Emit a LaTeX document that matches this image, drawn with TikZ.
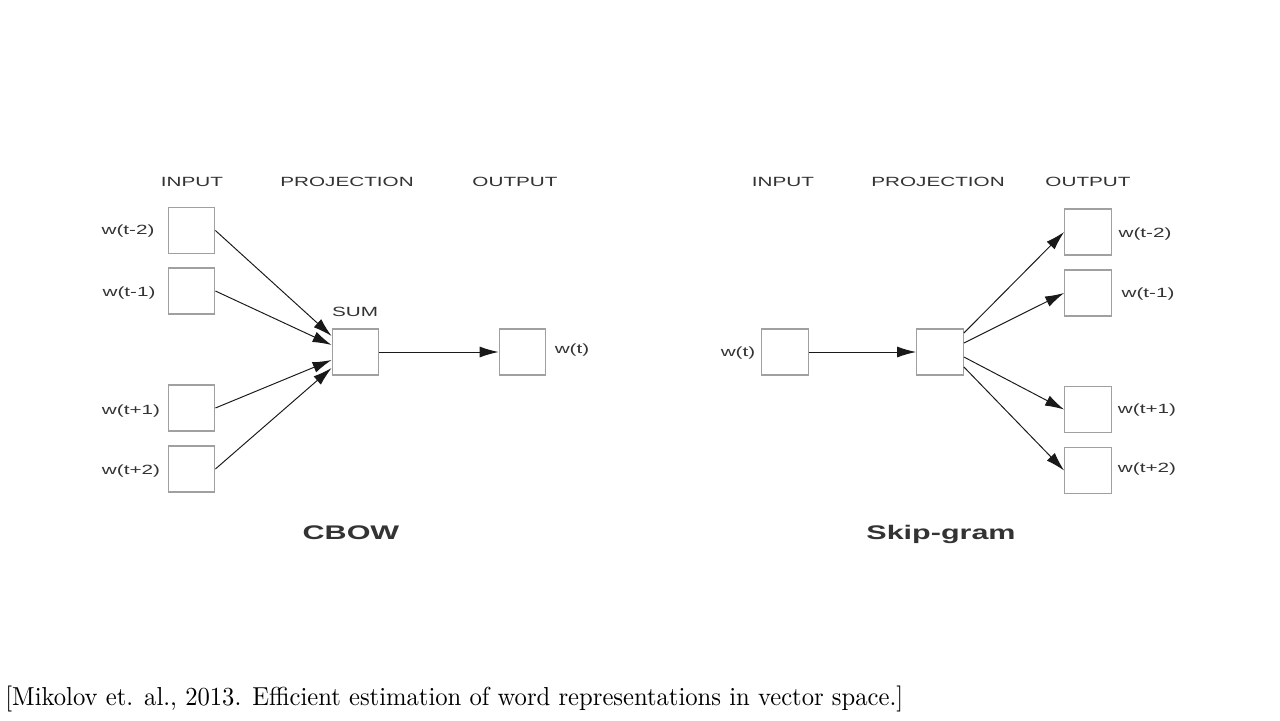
\documentclass[tikz,border=0pt]{standalone}
\usepackage{fontspec}
\setsansfont{Liberation Sans}
\usepackage{graphicx}
\usetikzlibrary{arrows.meta}

\definecolor{boxgray}{HTML}{A0A0A0}
\definecolor{textgray}{HTML}{333333}
\newcommand{\widetext}[1]{\scalebox{1.55}[1]{#1}}

\tikzset{
    unit/.style={draw=boxgray, line width=0.75pt, fill=white, minimum width=0.93cm, minimum height=0.92cm, inner sep=0pt},
    lbl/.style={text=textgray, font=\sffamily\fontsize{7.6}{9}\selectfont, inner sep=0pt},
    title/.style={text=textgray, font=\sffamily\bfseries\fontsize{11.2}{13}\selectfont, inner sep=0pt, anchor=base},
    conn/.style={-{Latex[length=0.38cm, width=0.22cm]}, line width=0.55pt, draw=black!90},
}

\begin{document}
\begin{tikzpicture}[x=0.02cm, y=-0.02cm]
    \fill[white] (0,0) rectangle (1280,720);
    \useasboundingbox (0,0) rectangle (1280,720);

    \node[lbl] (cinput) at (192,182){\widetext{INPUT}};
    \node[lbl] (cproj) at (347,182){\widetext{PROJECTION}};
    \node[lbl] (coutput) at (515,182){\widetext{OUTPUT}};

    \node[unit] (cw1) at (191.5,230.5){};
    \node[unit] (cw2) at (191.5,291){};
    \node[unit] (cw3) at (191.5,408){};
    \node[unit] (cw4) at (191.5,469){};
    \node[lbl] (cl1) at (128,231){\widetext{w(t-2)}};
    \node[lbl] (cl2) at (129,293){\widetext{w(t-1)}};
    \node[lbl] (cl3) at (131,411){\widetext{w(t+1)}};
    \node[lbl] (cl4) at (131,471){\widetext{w(t+2)}};

    \node[unit] (sum) at (355.5,352){};
    \node[lbl] (suml) at (355,312){\widetext{SUM}};
    \node[unit] (cout) at (522.5,352){};
    \node[lbl] (coutl) at (572,350){\widetext{w(t)}};

    \draw[conn] (cw1.east)--([yshift=0.32cm]sum.west);
    \draw[conn] (cw2.east)--([yshift=0.14cm]sum.west);
    \draw[conn] (cw3.east)--([yshift=-0.16cm]sum.west);
    \draw[conn] (cw4.east)--([yshift=-0.32cm]sum.west);
    \draw[conn] (sum.east)--(cout.west);

    \node[title] (cbow) at (351,539){\widetext{CBOW}};

    \node[lbl] (sinput) at (783,182){\widetext{INPUT}};
    \node[lbl] (sproj) at (938,182){\widetext{PROJECTION}};
    \node[lbl] (soutput) at (1088,182){\widetext{OUTPUT}};

    \node[unit] (sin) at (785,352){};
    \node[lbl] (sinl) at (738,353){\widetext{w(t)}};
    \node[unit] (proj) at (940,352){};

    \node[unit] (sw1) at (1088,232){};
    \node[unit] (sw2) at (1088,293){};
    \node[unit] (sw3) at (1088,409.5){};
    \node[unit] (sw4) at (1088,470.5){};
    \node[lbl] (sl1) at (1145,234){\widetext{w(t-2)}};
    \node[lbl] (sl2) at (1148,294){\widetext{w(t-1)}};
    \node[lbl] (sl3) at (1147,410){\widetext{w(t+1)}};
    \node[lbl] (sl4) at (1147,469){\widetext{w(t+2)}};

    \draw[conn] (sin.east)--(proj.west);
    \draw[conn] ([yshift=0.38cm]proj.east)--(sw1.west);
    \draw[conn] ([yshift=0.18cm]proj.east)--(sw2.west);
    \draw[conn] ([yshift=-0.1cm]proj.east)--(sw3.west);
    \draw[conn] ([yshift=-0.3cm]proj.east)--(sw4.west);

    \node[title] (skip) at (941,539){\widetext{Skip-gram}};

    \node[anchor=west, inner sep=0pt] (cite) at (5,699){\resizebox*{17.96cm}{0.52cm}{[Mikolov et. al., 2013. Efficient estimation of word representations in vector space.]}};
\end{tikzpicture}
\end{document}
